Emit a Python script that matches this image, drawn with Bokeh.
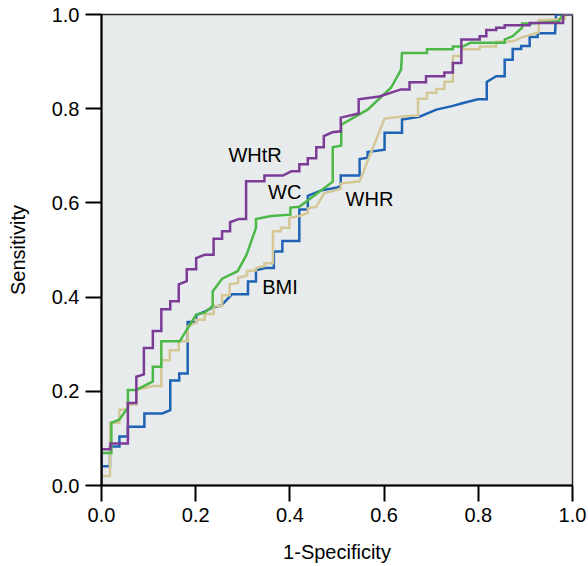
from bokeh.plotting import figure
from bokeh.models import Range1d, FixedTicker
from bokeh.embed import file_html
from bokeh.resources import INLINE
from bokeh.core.properties import value

# ---- data ----
tick_values = [0.0, 0.2, 0.4, 0.6, 0.8, 1.0]
tick_labels = ["0.0", "0.2", "0.4", "0.6", "0.8", "1.0"]

whr_fpr = [0, 0, 0.018, 0.018, 0.038, 0.038, 0.056, 0.056, 0.091, 0.091, 0.129, 0.146, 0.146, 0.165, 0.165,
           0.183, 0.183, 0.201, 0.201, 0.219, 0.236, 0.254, 0.277, 0.311, 0.311, 0.328, 0.328, 0.350, 0.366,
           0.366, 0.384, 0.384, 0.420, 0.420, 0.438, 0.438, 0.468, 0.498, 0.508, 0.508, 0.548, 0.548, 0.565,
           0.565, 0.601, 0.601, 0.638, 0.638, 0.675, 0.711, 0.746, 0.764, 0.799, 0.818, 0.818, 0.838, 0.856,
           0.856, 0.873, 0.873, 0.891, 0.891, 0.909, 0.909, 0.926, 0.926, 0.963, 0.965, 1.0]
whr_tpr = [0, 0.041, 0.041, 0.083, 0.083, 0.104, 0.104, 0.125, 0.125, 0.153, 0.153, 0.160, 0.223, 0.223, 0.238,
           0.238, 0.347, 0.347, 0.362, 0.369, 0.378, 0.382, 0.406, 0.406, 0.433, 0.433, 0.457, 0.462, 0.462,
           0.497, 0.497, 0.519, 0.519, 0.586, 0.586, 0.615, 0.627, 0.632, 0.636, 0.658, 0.658, 0.693, 0.696,
           0.708, 0.713, 0.749, 0.749, 0.777, 0.783, 0.798, 0.806, 0.811, 0.820, 0.820, 0.857, 0.869, 0.869,
           0.904, 0.904, 0.927, 0.927, 0.933, 0.933, 0.952, 0.952, 0.960, 0.960, 1.0, 1.0]

bmi_fpr = [0, 0, 0.018, 0.018, 0.038, 0.038, 0.056, 0.056, 0.074, 0.074, 0.091, 0.109, 0.127, 0.127, 0.145,
           0.145, 0.164, 0.164, 0.183, 0.183, 0.201, 0.201, 0.219, 0.219, 0.238, 0.238, 0.256, 0.256, 0.272,
           0.272, 0.290, 0.290, 0.309, 0.309, 0.328, 0.328, 0.346, 0.346, 0.364, 0.364, 0.381, 0.381, 0.399,
           0.399, 0.420, 0.438, 0.438, 0.456, 0.473, 0.491, 0.508, 0.508, 0.548, 0.601, 0.654, 0.672, 0.672,
           0.691, 0.691, 0.711, 0.711, 0.728, 0.728, 0.746, 0.746, 0.764, 0.764, 0.803, 0.803, 0.838, 0.838,
           0.873, 0.891, 0.928, 0.929, 0.983, 0.985, 1.0]
bmi_tpr = [0, 0.020, 0.020, 0.133, 0.133, 0.161, 0.161, 0.172, 0.172, 0.204, 0.207, 0.211, 0.211, 0.266, 0.266,
           0.287, 0.287, 0.306, 0.306, 0.338, 0.345, 0.352, 0.352, 0.364, 0.364, 0.381, 0.381, 0.404, 0.404,
           0.427, 0.430, 0.441, 0.446, 0.455, 0.457, 0.462, 0.466, 0.472, 0.472, 0.540, 0.540, 0.547, 0.547,
           0.568, 0.572, 0.579, 0.588, 0.592, 0.621, 0.625, 0.630, 0.641, 0.646, 0.779, 0.785, 0.785, 0.821,
           0.821, 0.834, 0.834, 0.842, 0.842, 0.857, 0.857, 0.912, 0.912, 0.926, 0.926, 0.932, 0.932, 0.942,
           0.943, 0.951, 0.962, 0.988, 0.990, 1.0, 1.0]

wc_fpr = [0, 0, 0.021, 0.021, 0.038, 0.056, 0.056, 0.074, 0.109, 0.109, 0.127, 0.127, 0.166, 0.201, 0.219,
          0.236, 0.236, 0.256, 0.289, 0.308, 0.328, 0.328, 0.360, 0.401, 0.401, 0.420, 0.491, 0.491, 0.509,
          0.509, 0.565, 0.615, 0.636, 0.638, 0.691, 0.691, 0.746, 0.746, 0.767, 0.783, 0.856, 0.856, 0.873,
          0.893, 0.893, 0.909, 0.970, 0.980, 1.0]
wc_tpr = [0, 0.069, 0.069, 0.133, 0.140, 0.165, 0.203, 0.203, 0.221, 0.252, 0.252, 0.306, 0.306, 0.363, 0.367,
          0.381, 0.412, 0.439, 0.455, 0.490, 0.547, 0.566, 0.572, 0.575, 0.590, 0.592, 0.645, 0.718, 0.722,
          0.766, 0.798, 0.845, 0.883, 0.918, 0.918, 0.926, 0.926, 0.932, 0.932, 0.940, 0.940, 0.947, 0.954,
          0.972, 0.981, 0.981, 0.985, 1.0, 1.0]

whtr_fpr = [0, 0, 0.019, 0.019, 0.056, 0.056, 0.074, 0.074, 0.090, 0.090, 0.109, 0.109, 0.127, 0.127, 0.146,
            0.146, 0.164, 0.164, 0.181, 0.181, 0.201, 0.201, 0.219, 0.238, 0.238, 0.256, 0.256, 0.273, 0.273,
            0.292, 0.307, 0.307, 0.346, 0.346, 0.385, 0.403, 0.420, 0.420, 0.438, 0.438, 0.456, 0.456, 0.472,
            0.472, 0.490, 0.508, 0.508, 0.546, 0.546, 0.590, 0.636, 0.654, 0.654, 0.689, 0.689, 0.728, 0.728,
            0.746, 0.746, 0.764, 0.764, 0.803, 0.803, 0.817, 0.817, 0.838, 0.838, 0.856, 0.856, 0.909, 0.909,
            0.980, 0.980, 1.0]
whtr_tpr = [0, 0.077, 0.077, 0.089, 0.089, 0.175, 0.175, 0.231, 0.236, 0.292, 0.292, 0.328, 0.328, 0.374, 0.374,
            0.391, 0.391, 0.427, 0.434, 0.459, 0.459, 0.483, 0.490, 0.490, 0.524, 0.524, 0.540, 0.540, 0.559,
            0.566, 0.566, 0.646, 0.646, 0.658, 0.658, 0.667, 0.667, 0.682, 0.682, 0.695, 0.695, 0.718, 0.718,
            0.742, 0.750, 0.752, 0.781, 0.790, 0.820, 0.826, 0.841, 0.841, 0.856, 0.856, 0.869, 0.869, 0.877,
            0.877, 0.897, 0.897, 0.947, 0.947, 0.954, 0.954, 0.967, 0.967, 0.972, 0.972, 0.977, 0.977, 0.982,
            0.982, 1.0, 1.0]

label_text = ["WHtR", "WC", "WHR", "BMI"]
label_x = [0.326, 0.389, 0.569, 0.379]
label_y = [0.701, 0.623, 0.609, 0.421]

# ---- figure ----
FONT = "Liberation Sans"
p = figure(width=588, height=566, x_range=Range1d(0, 1), y_range=Range1d(0, 1),
           output_backend="svg", toolbar_location=None,
           min_border_left=101, min_border_right=16, min_border_top=14, min_border_bottom=81)
p.background_fill_color = "#e8ebec"
p.border_fill_color = "white"
p.outline_line_color = "#222222"
p.outline_line_width = 1.5
p.xgrid.visible = False
p.ygrid.visible = False

for ax in (p.xaxis[0], p.yaxis[0]):
    ax.ticker = FixedTicker(ticks=tick_values)
    ax.major_label_overrides = {v: t for v, t in zip(tick_values, tick_labels)}
    ax.major_tick_out = 16
    ax.major_tick_in = 0
    ax.minor_tick_out = 0
    ax.minor_tick_in = 0
    ax.major_tick_line_color = "black"
    ax.major_tick_line_width = 2
    ax.axis_line_color = "black"
    ax.axis_line_width = 2
    ax.major_label_text_font = FONT
    ax.major_label_text_font_size = "20px"
    ax.major_label_text_color = "black"
    ax.major_label_standoff = 6
    ax.axis_label_text_font = FONT
    ax.axis_label_text_font_size = "20px"
    ax.axis_label_text_font_style = "normal"
    ax.axis_label_text_color = "black"

p.xaxis.axis_label = "1-Specificity"
p.yaxis.axis_label = "Sensitivity"
p.xaxis.axis_label_standoff = 16
p.yaxis.axis_label_standoff = 20

LW = 2.5
p.line(whr_fpr, whr_tpr, line_color="#1f63b5", line_width=LW, line_join="miter")
p.line(bmi_fpr, bmi_tpr, line_color="#d4c897", line_width=LW, line_join="miter")
p.line(wc_fpr, wc_tpr, line_color="#4cb848", line_width=LW, line_join="miter")
p.line(whtr_fpr, whtr_tpr, line_color="#7b3c96", line_width=LW, line_join="miter")

p.text(x=label_x, y=label_y, text=label_text, text_font=value(FONT), text_font_size="20px",
       text_align="center", text_baseline="middle", text_color="black")

open("out.html", "w").write(file_html(p, INLINE))
